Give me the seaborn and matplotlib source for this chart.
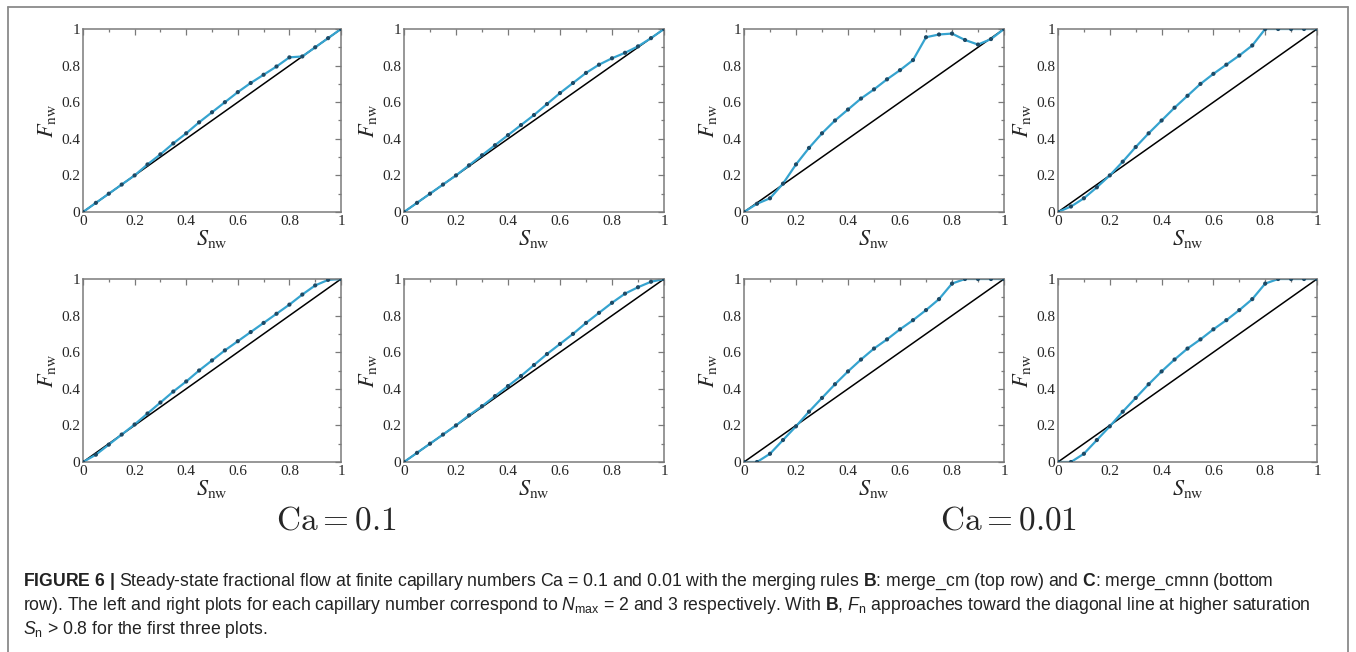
import matplotlib
matplotlib.use("Agg")
import matplotlib.pyplot as plt
from matplotlib.lines import Line2D
from matplotlib.ticker import MultipleLocator, FuncFormatter
import numpy as np
import pandas as pd
import seaborn as sns

# saturation grid shared by all panels
s_nw = [0.0, 0.05, 0.1, 0.15, 0.2, 0.25, 0.3, 0.35, 0.4, 0.45, 0.5,
        0.55, 0.6, 0.65, 0.7, 0.75, 0.8, 0.85, 0.9, 0.95, 1.0]

# top row: merge_cm
f_ca01_n2_cm = [0.0, 0.05, 0.1, 0.15, 0.2, 0.26, 0.315, 0.375, 0.43, 0.49, 0.545,
                0.6, 0.655, 0.705, 0.75, 0.795, 0.845, 0.85, 0.9, 0.95, 1.0]
f_ca01_n3_cm = [0.0, 0.05, 0.1, 0.15, 0.2, 0.255, 0.31, 0.365, 0.42, 0.475, 0.53,
                0.59, 0.65, 0.705, 0.76, 0.805, 0.84, 0.87, 0.905, 0.95, 1.0]
f_ca001_n2_cm = [0.0, 0.045, 0.075, 0.155, 0.26, 0.35, 0.43, 0.5, 0.56, 0.62, 0.67,
                 0.725, 0.775, 0.83, 0.955, 0.97, 0.975, 0.94, 0.915, 0.945, 1.0]
f_ca001_n3_cm = [0.0, 0.03, 0.075, 0.135, 0.2, 0.275, 0.355, 0.43, 0.5, 0.57, 0.635,
                 0.7, 0.755, 0.805, 0.855, 0.91, 1.0, 1.0, 1.0, 1.0, 1.0]

# bottom row: merge_cmnn
f_ca01_n2_cmnn = [0.0, 0.04, 0.095, 0.15, 0.205, 0.265, 0.325, 0.385, 0.44, 0.5, 0.555,
                  0.61, 0.66, 0.71, 0.76, 0.81, 0.86, 0.915, 0.965, 0.995, 1.0]
f_ca01_n3_cmnn = [0.0, 0.05, 0.1, 0.15, 0.2, 0.255, 0.305, 0.36, 0.415, 0.47, 0.53,
                  0.59, 0.645, 0.7, 0.76, 0.815, 0.87, 0.92, 0.955, 0.985, 1.0]
f_ca001_n2_cmnn = [0.0, 0.0, 0.045, 0.12, 0.195, 0.275, 0.35, 0.425, 0.495, 0.56, 0.62,
                   0.67, 0.725, 0.775, 0.83, 0.89, 0.975, 1.0, 1.0, 1.0, 1.0]
f_ca001_n3_cmnn = [0.0, 0.0, 0.045, 0.12, 0.195, 0.275, 0.35, 0.425, 0.495, 0.56, 0.62,
                   0.67, 0.725, 0.775, 0.83, 0.89, 0.975, 1.0, 1.0, 1.0, 1.0]

diag = [0.0, 1.0]

panels = [f_ca01_n2_cm, f_ca01_n3_cm, f_ca001_n2_cm, f_ca001_n3_cm,
          f_ca01_n2_cmnn, f_ca01_n3_cmnn, f_ca001_n2_cmnn, f_ca001_n3_cmnn]

sns.set_style("white")
plt.rcParams["font.family"] = ["Liberation Serif", "DejaVu Serif"]
plt.rcParams["mathtext.fontset"] = "stix"
plt.rcParams["mathtext.rm"] = "Liberation Sans"
plt.rcParams["mathtext.it"] = "Liberation Sans:italic"
plt.rcParams["mathtext.bf"] = "Liberation Sans:bold"

W, H = 1356, 652
fig = plt.figure(figsize=(W / 100, H / 100), dpi=100)

# axes boxes in pixels: left, right
xs = [(83, 341), (404, 664), (744, 1004), (1058, 1317)]
ys = [(29, 212), (279, 462)]

frame_col = "#7a7a7a"
line_col = "#35a3cf"
dot_col = "#1d4a66"


def fmt(v, pos):
    if abs(v) < 1e-9:
        return "0"
    if abs(v - 1) < 1e-9:
        return "1"
    return f"{v:.1f}"


for i, fvals in enumerate(panels):
    r, c = divmod(i, 4)
    x0, x1 = xs[c]
    y0, y1 = ys[r]
    ax = fig.add_axes([x0 / W, 1 - y1 / H, (x1 - x0) / W, (y1 - y0) / H])
    df = pd.DataFrame({"S": s_nw, "F": fvals})
    sns.lineplot(x=diag, y=diag, ax=ax, color="black", linewidth=1.1)
    sns.lineplot(data=df, x="S", y="F", ax=ax, color=line_col, linewidth=1.6)
    sns.scatterplot(data=df, x="S", y="F", ax=ax, color=dot_col, s=9,
                    edgecolor="none", zorder=5)
    ax.set_xlim(0, 1)
    ax.set_ylim(0, 1)
    ax.xaxis.set_major_locator(MultipleLocator(0.2))
    ax.yaxis.set_major_locator(MultipleLocator(0.2))
    ax.xaxis.set_minor_locator(MultipleLocator(0.1))
    ax.yaxis.set_minor_locator(MultipleLocator(0.1))
    ax.xaxis.set_major_formatter(FuncFormatter(fmt))
    ax.yaxis.set_major_formatter(FuncFormatter(fmt))
    ax.tick_params(which="both", direction="in", top=True, right=True,
                   color=frame_col, width=0.9, labelsize=11, pad=2)
    ax.tick_params(which="major", length=4.5)
    ax.tick_params(which="minor", length=2.5)
    for sp in ax.spines.values():
        sp.set_color(frame_col)
        sp.set_linewidth(1.1)
    ax.set_xlabel(r"$S_{\mathrm{nw}}$", fontsize=16, labelpad=0)
    ax.set_ylabel(r"$F_{\mathrm{nw}}$", fontsize=16, labelpad=2)

# capillary number labels
fig.text(336 / W, 1 - 521 / H, r"$\mathrm{Ca} = 0.1$", math_fontfamily="cm",
         fontsize=24, ha="center", va="center")
fig.text(1009 / W, 1 - 521 / H, r"$\mathrm{Ca} = 0.01$", math_fontfamily="cm",
         fontsize=24, ha="center", va="center")

# caption
cap = [
    r"$\mathbf{FIGURE\ 6\ |}$ Steady-state fractional flow at finite capillary numbers Ca = 0.1 and 0.01 "
    r"with the merging rules $\mathbf{B}$: merge_cm (top row) and $\mathbf{C}$: merge_cmnn (bottom",
    r"row). The left and right plots for each capillary number correspond to $N_{\mathrm{max}}$ = 2 and 3 "
    r"respectively. With $\mathbf{B}$, $F_{\mathrm{n}}$ approaches toward the diagonal line at higher saturation",
    r"$S_{\mathrm{n}}$ > 0.8 for the first three plots.",
]
for k, line in enumerate(cap):
    fig.text(23 / W, 1 - (582 + 24 * k) / H, line, family="Liberation Sans",
             math_fontfamily="custom", fontsize=12.7, ha="left", va="center",
             color="#222222")

# outer frame (left, top, right)
bc = "#8a8a8a"
fig.add_artist(Line2D([8 / W, 8 / W], [0, 1 - 7 / H], color=bc, lw=1.3))
fig.add_artist(Line2D([8 / W, 1348 / W], [1 - 7 / H, 1 - 7 / H], color=bc, lw=1.3))
fig.add_artist(Line2D([1348 / W, 1348 / W], [0, 1 - 7 / H], color=bc, lw=1.3))

fig.savefig("out.png", dpi=100)
